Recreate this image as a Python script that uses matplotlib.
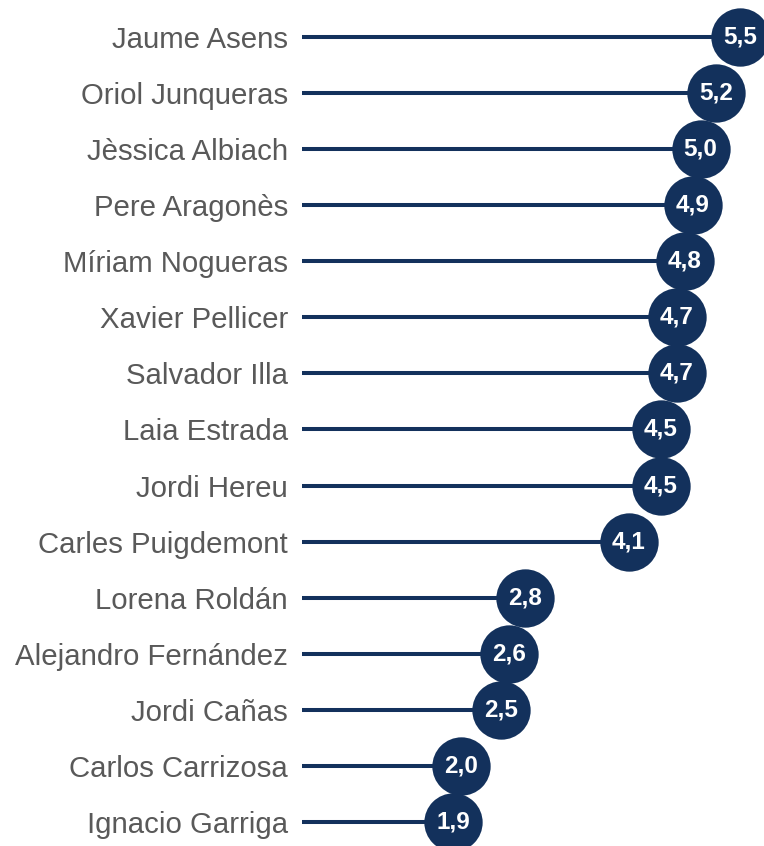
import numpy as np
import matplotlib.pyplot as plt

names = ["Jaume Asens", "Oriol Junqueras", "Jèssica Albiach", "Pere Aragonès",
         "Míriam Nogueras", "Xavier Pellicer", "Salvador Illa", "Laia Estrada",
         "Jordi Hereu", "Carles Puigdemont", "Lorena Roldán", "Alejandro Fernández",
         "Jordi Cañas", "Carlos Carrizosa", "Ignacio Garriga"]
scores = [5.5, 5.2, 5.0, 4.9, 4.8, 4.7, 4.7, 4.5, 4.5, 4.1, 2.8, 2.6, 2.5, 2.0, 1.9]

navy = "#13315c"
grey = "#595959"

plt.rcParams['font.family'] = ['Liberation Sans', 'DejaVu Sans']

fig = plt.figure(figsize=(7.64, 8.46), dpi=100)
ax = fig.add_axes([302 / 764, 0, 462 / 764, 1])

pos = np.arange(len(names))
ax.hlines(pos, 0, scores, color=navy, linewidth=2.9, zorder=1)
ax.plot(scores, pos, 'o', color=navy, markersize=42, markeredgewidth=0, zorder=2)
for y, v in zip(pos, scores):
    ax.text(v, y, f"{v:.1f}".replace(".", ","), color="white", fontsize=17.5,
            fontweight="bold", ha="center", va="center", zorder=3)

ax.set_xlim(0, 462 / 79.7)
ax.set_ylim(14.43, -0.66)
ax.set_yticks(pos)
ax.set_yticklabels(names, fontsize=21.2, color=grey)
ax.tick_params(axis='y', length=0, pad=10)
ax.set_xticks([])
for s in ax.spines.values():
    s.set_visible(False)

fig.savefig("out.png", dpi=100)
